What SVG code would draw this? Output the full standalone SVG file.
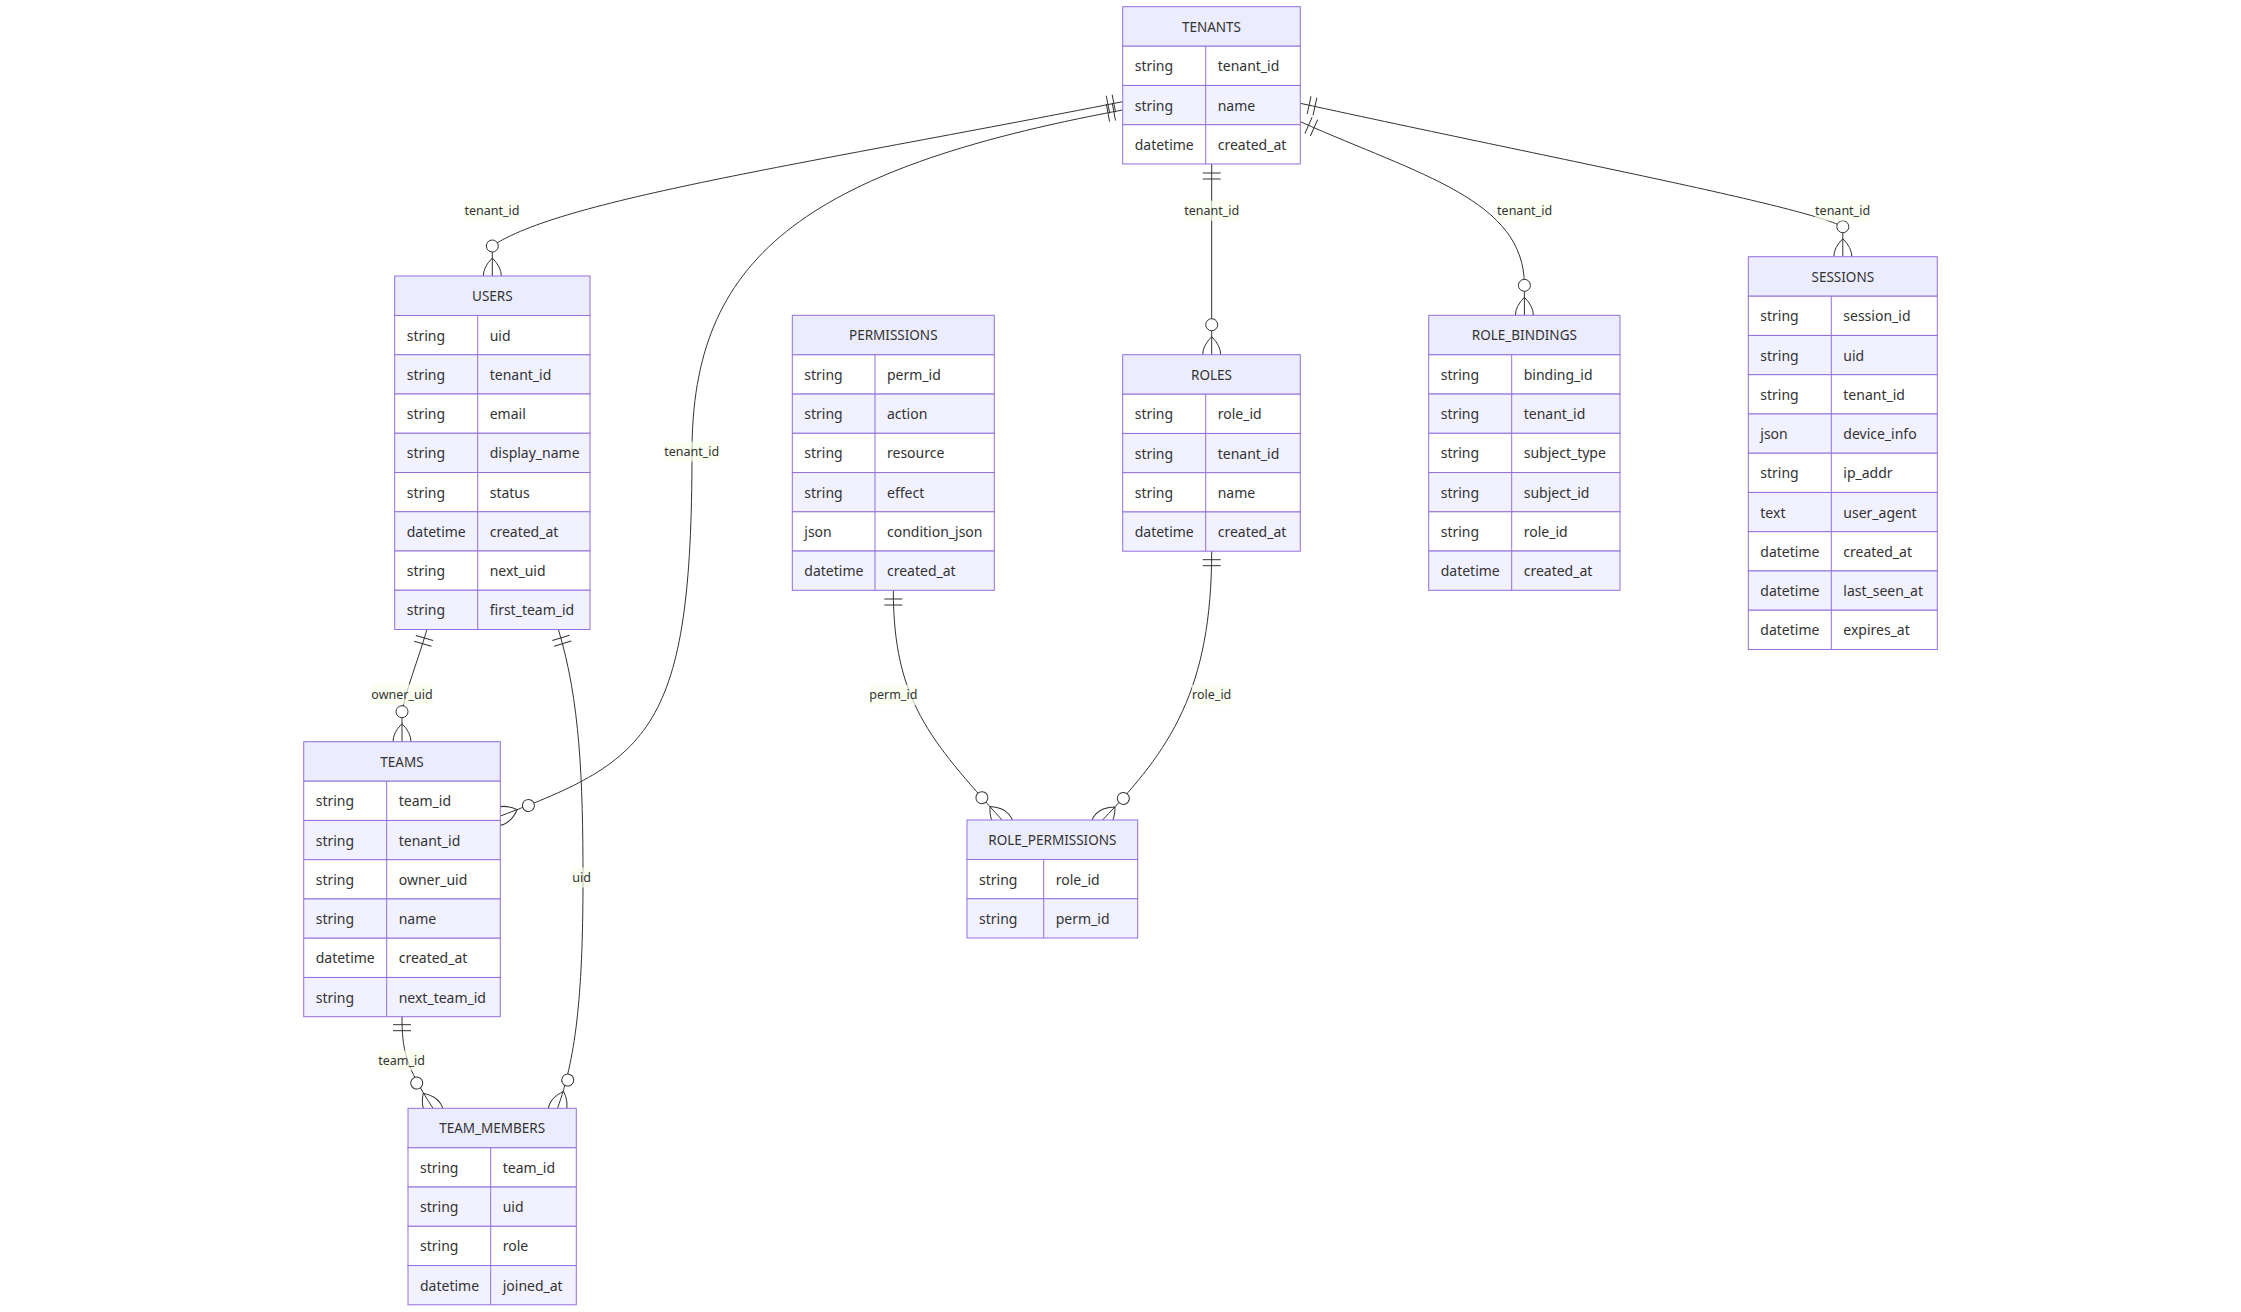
<svg xmlns="http://www.w3.org/2000/svg" width="2241" height="1312" viewBox="0 0 2241 1312">
<style>
.hd{fill:#ECECFF;stroke:#9370DB;stroke-width:1}
.ro{fill:#FFFFFF;stroke:#9370DB;stroke-width:1}
.re{fill:#F1F1FF;stroke:#9370DB;stroke-width:1}
.dv{stroke:#9370DB;stroke-width:1}
.h{font-family:'Noto Sans','DejaVu Sans',sans-serif;font-size:13.5px;fill:#333;text-anchor:middle}
.a{font-family:'Noto Sans','DejaVu Sans',sans-serif;font-size:14px;fill:#333}
.edge{fill:none;stroke:#333;stroke-width:1}
.lb{fill:#F9FFEC;opacity:0.7}
.lt{font-family:'Noto Sans','DejaVu Sans',sans-serif;font-size:12.5px;fill:#333;text-anchor:middle}
</style>
<defs>
<marker id="oneStart" markerWidth="18" markerHeight="18" refX="0" refY="9" orient="auto" markerUnits="userSpaceOnUse" overflow="visible">
<path d="M9,0 L9,18 M15,0 L15,18" fill="none" stroke="#333" stroke-width="1"/>
</marker>
<marker id="zmEnd" markerWidth="57" markerHeight="36" refX="39" refY="18" orient="auto" markerUnits="userSpaceOnUse" overflow="visible">
<circle cx="9" cy="18" r="6" fill="#FFFFFF" stroke="#333" stroke-width="1"/>
<path d="M21,18 Q39,0 57,18 Q39,36 21,18" fill="none" stroke="#333" stroke-width="1"/>
</marker>
</defs>
<rect width="2241" height="1312" fill="#FFFFFF"/>
<g id="connectors">
<path class="edge" marker-start="url(#oneStart)" marker-end="url(#zmEnd)" d="M1122.7,101.7 C800,165 560,200 492.3,246 L492.3,276"/>
<path class="edge" marker-start="url(#oneStart)" marker-end="url(#zmEnd)" d="M1122.7,110 C800,170 692,260 692,452 C692,730 650,760 500.3,816"/>
<path class="edge" marker-start="url(#oneStart)" marker-end="url(#zmEnd)" d="M1211.7,164 L1211.7,354.7"/>
<path class="edge" marker-start="url(#oneStart)" marker-end="url(#zmEnd)" d="M1300.3,121.7 C1420,175 1524.4,200 1524.4,285.3 L1524.4,315.3"/>
<path class="edge" marker-start="url(#oneStart)" marker-end="url(#zmEnd)" d="M1300.3,103.3 C1560,160 1800,205 1842.8,226.7 L1842.8,256.7"/>
<path class="edge" marker-start="url(#oneStart)" marker-end="url(#zmEnd)" d="M427,629.3 C418,660 406,690 402,711.7 L402,741.7"/>
<path class="edge" marker-start="url(#oneStart)" marker-end="url(#zmEnd)" d="M558.3,629.3 C580,700 583,780 583,880 C583,1000 575,1060 557.5,1108.3"/>
<path class="edge" marker-start="url(#oneStart)" marker-end="url(#zmEnd)" d="M402,1015.7 C402,1050 405,1065 433,1108.3"/>
<path class="edge" marker-start="url(#oneStart)" marker-end="url(#zmEnd)" d="M893.3,590 C893.3,700 930,740 1002,820"/>
<path class="edge" marker-start="url(#oneStart)" marker-end="url(#zmEnd)" d="M1211.7,550.7 C1211.7,690 1170,750 1102.5,820"/>
</g>
<g id="labels">
<rect class="lb" x="464.4" y="200.7" width="55.2" height="20"/><text class="lt" x="492" y="215">tenant_id</text>
<rect class="lb" x="664.1" y="441.6" width="55.2" height="20"/><text class="lt" x="691.7" y="456">tenant_id</text>
<rect class="lb" x="1184.1" y="200.7" width="55.2" height="20"/><text class="lt" x="1211.7" y="215">tenant_id</text>
<rect class="lb" x="1497" y="200.7" width="55.2" height="20"/><text class="lt" x="1524.6" y="215">tenant_id</text>
<rect class="lb" x="1815" y="200.7" width="55.2" height="20"/><text class="lt" x="1842.6" y="215">tenant_id</text>
<rect class="lb" x="371" y="684.4" width="62" height="20"/><text class="lt" x="402" y="698.7">owner_uid</text>
<rect class="lb" x="572.3" y="867.5" width="18.7" height="20"/><text class="lt" x="581.6" y="881.8">uid</text>
<rect class="lb" x="378.1" y="1050.4" width="47" height="20"/><text class="lt" x="401.6" y="1064.7">team_id</text>
<rect class="lb" x="869.2" y="685" width="48.3" height="20"/><text class="lt" x="893.3" y="699.3">perm_id</text>
<rect class="lb" x="1191.9" y="685" width="39.6" height="20"/><text class="lt" x="1211.7" y="699.3">role_id</text>
</g>
<g id="TENANTS" transform="translate(1122.7,6.7)">
<rect class="hd" width="177.6" height="39.5"/><text class="h" x="88.8" y="25">TENANTS</text>
<rect class="ro" y="39.5" width="177.6" height="39.25"/>
<rect class="re" y="78.75" width="177.6" height="39.25"/>
<rect class="ro" y="118" width="177.6" height="39.25"/>
<line class="dv" x1="83" y1="39.5" x2="83" y2="157.25"/>
<text class="a" x="12" y="64.6">string</text><text class="a" x="95" y="64.6">tenant_id</text>
<text class="a" x="12" y="103.9">string</text><text class="a" x="95" y="103.9">name</text>
<text class="a" x="12" y="143.1">datetime</text><text class="a" x="95" y="143.1">created_at</text>
</g>
<g id="USERS" transform="translate(394.7,276)">
<rect class="hd" width="195.3" height="39.5"/><text class="h" x="97.65" y="25">USERS</text>
<rect class="ro" y="39.5" width="195.3" height="39.25"/>
<rect class="re" y="78.75" width="195.3" height="39.25"/>
<rect class="ro" y="118" width="195.3" height="39.25"/>
<rect class="re" y="157.25" width="195.3" height="39.25"/>
<rect class="ro" y="196.5" width="195.3" height="39.25"/>
<rect class="re" y="235.75" width="195.3" height="39.25"/>
<rect class="ro" y="275" width="195.3" height="39.25"/>
<rect class="re" y="314.25" width="195.3" height="39.25"/>
<line class="dv" x1="83" y1="39.5" x2="83" y2="353.5"/>
<text class="a" x="12" y="64.6">string</text><text class="a" x="95" y="64.6">uid</text>
<text class="a" x="12" y="103.9">string</text><text class="a" x="95" y="103.9">tenant_id</text>
<text class="a" x="12" y="143.1">string</text><text class="a" x="95" y="143.1">email</text>
<text class="a" x="12" y="182.4">string</text><text class="a" x="95" y="182.4">display_name</text>
<text class="a" x="12" y="221.6">string</text><text class="a" x="95" y="221.6">status</text>
<text class="a" x="12" y="260.9">datetime</text><text class="a" x="95" y="260.9">created_at</text>
<text class="a" x="12" y="300.1">string</text><text class="a" x="95" y="300.1">next_uid</text>
<text class="a" x="12" y="339.4">string</text><text class="a" x="95" y="339.4">first_team_id</text>
</g>
<g id="TEAMS" transform="translate(303.7,741.7)">
<rect class="hd" width="196.6" height="39.5"/><text class="h" x="98.3" y="25">TEAMS</text>
<rect class="ro" y="39.5" width="196.6" height="39.25"/>
<rect class="re" y="78.75" width="196.6" height="39.25"/>
<rect class="ro" y="118" width="196.6" height="39.25"/>
<rect class="re" y="157.25" width="196.6" height="39.25"/>
<rect class="ro" y="196.5" width="196.6" height="39.25"/>
<rect class="re" y="235.75" width="196.6" height="39.25"/>
<line class="dv" x1="83" y1="39.5" x2="83" y2="275"/>
<text class="a" x="12" y="64.6">string</text><text class="a" x="95" y="64.6">team_id</text>
<text class="a" x="12" y="103.9">string</text><text class="a" x="95" y="103.9">tenant_id</text>
<text class="a" x="12" y="143.1">string</text><text class="a" x="95" y="143.1">owner_uid</text>
<text class="a" x="12" y="182.4">string</text><text class="a" x="95" y="182.4">name</text>
<text class="a" x="12" y="221.6">datetime</text><text class="a" x="95" y="221.6">created_at</text>
<text class="a" x="12" y="260.9">string</text><text class="a" x="95" y="260.9">next_team_id</text>
</g>
<g id="TEAM_MEMBERS" transform="translate(408,1108.3)">
<rect class="hd" width="168.3" height="39.5"/><text class="h" x="84.15" y="25">TEAM_MEMBERS</text>
<rect class="ro" y="39.5" width="168.3" height="39.25"/>
<rect class="re" y="78.75" width="168.3" height="39.25"/>
<rect class="ro" y="118" width="168.3" height="39.25"/>
<rect class="re" y="157.25" width="168.3" height="39.25"/>
<line class="dv" x1="82.7" y1="39.5" x2="82.7" y2="196.5"/>
<text class="a" x="12" y="64.6">string</text><text class="a" x="94.7" y="64.6">team_id</text>
<text class="a" x="12" y="103.9">string</text><text class="a" x="94.7" y="103.9">uid</text>
<text class="a" x="12" y="143.1">string</text><text class="a" x="94.7" y="143.1">role</text>
<text class="a" x="12" y="182.4">datetime</text><text class="a" x="94.7" y="182.4">joined_at</text>
</g>
<g id="PERMISSIONS" transform="translate(792.3,315.3)">
<rect class="hd" width="202" height="39.5"/><text class="h" x="101" y="25">PERMISSIONS</text>
<rect class="ro" y="39.5" width="202" height="39.25"/>
<rect class="re" y="78.75" width="202" height="39.25"/>
<rect class="ro" y="118" width="202" height="39.25"/>
<rect class="re" y="157.25" width="202" height="39.25"/>
<rect class="ro" y="196.5" width="202" height="39.25"/>
<rect class="re" y="235.75" width="202" height="39.25"/>
<line class="dv" x1="82.7" y1="39.5" x2="82.7" y2="275"/>
<text class="a" x="12" y="64.6">string</text><text class="a" x="94.7" y="64.6">perm_id</text>
<text class="a" x="12" y="103.9">string</text><text class="a" x="94.7" y="103.9">action</text>
<text class="a" x="12" y="143.1">string</text><text class="a" x="94.7" y="143.1">resource</text>
<text class="a" x="12" y="182.4">string</text><text class="a" x="94.7" y="182.4">effect</text>
<text class="a" x="12" y="221.6">json</text><text class="a" x="94.7" y="221.6">condition_json</text>
<text class="a" x="12" y="260.9">datetime</text><text class="a" x="94.7" y="260.9">created_at</text>
</g>
<g id="ROLES" transform="translate(1122.7,354.7)">
<rect class="hd" width="177.6" height="39.5"/><text class="h" x="88.8" y="25">ROLES</text>
<rect class="ro" y="39.5" width="177.6" height="39.25"/>
<rect class="re" y="78.75" width="177.6" height="39.25"/>
<rect class="ro" y="118" width="177.6" height="39.25"/>
<rect class="re" y="157.25" width="177.6" height="39.25"/>
<line class="dv" x1="83" y1="39.5" x2="83" y2="196.5"/>
<text class="a" x="12" y="64.6">string</text><text class="a" x="95" y="64.6">role_id</text>
<text class="a" x="12" y="103.9">string</text><text class="a" x="95" y="103.9">tenant_id</text>
<text class="a" x="12" y="143.1">string</text><text class="a" x="95" y="143.1">name</text>
<text class="a" x="12" y="182.4">datetime</text><text class="a" x="95" y="182.4">created_at</text>
</g>
<g id="ROLE_PERMISSIONS" transform="translate(967,820)">
<rect class="hd" width="170.7" height="39.5"/><text class="h" x="85.35" y="25">ROLE_PERMISSIONS</text>
<rect class="ro" y="39.5" width="170.7" height="39.25"/>
<rect class="re" y="78.75" width="170.7" height="39.25"/>
<line class="dv" x1="76.7" y1="39.5" x2="76.7" y2="118"/>
<text class="a" x="12" y="64.6">string</text><text class="a" x="88.7" y="64.6">role_id</text>
<text class="a" x="12" y="103.9">string</text><text class="a" x="88.7" y="103.9">perm_id</text>
</g>
<g id="ROLE_BINDINGS" transform="translate(1428.7,315.3)">
<rect class="hd" width="191.3" height="39.5"/><text class="h" x="95.65" y="25">ROLE_BINDINGS</text>
<rect class="ro" y="39.5" width="191.3" height="39.25"/>
<rect class="re" y="78.75" width="191.3" height="39.25"/>
<rect class="ro" y="118" width="191.3" height="39.25"/>
<rect class="re" y="157.25" width="191.3" height="39.25"/>
<rect class="ro" y="196.5" width="191.3" height="39.25"/>
<rect class="re" y="235.75" width="191.3" height="39.25"/>
<line class="dv" x1="83" y1="39.5" x2="83" y2="275"/>
<text class="a" x="12" y="64.6">string</text><text class="a" x="95" y="64.6">binding_id</text>
<text class="a" x="12" y="103.9">string</text><text class="a" x="95" y="103.9">tenant_id</text>
<text class="a" x="12" y="143.1">string</text><text class="a" x="95" y="143.1">subject_type</text>
<text class="a" x="12" y="182.4">string</text><text class="a" x="95" y="182.4">subject_id</text>
<text class="a" x="12" y="221.6">string</text><text class="a" x="95" y="221.6">role_id</text>
<text class="a" x="12" y="260.9">datetime</text><text class="a" x="95" y="260.9">created_at</text>
</g>
<g id="SESSIONS" transform="translate(1748.3,256.7)">
<rect class="hd" width="189" height="39.5"/><text class="h" x="94.5" y="25">SESSIONS</text>
<rect class="ro" y="39.5" width="189" height="39.25"/>
<rect class="re" y="78.75" width="189" height="39.25"/>
<rect class="ro" y="118" width="189" height="39.25"/>
<rect class="re" y="157.25" width="189" height="39.25"/>
<rect class="ro" y="196.5" width="189" height="39.25"/>
<rect class="re" y="235.75" width="189" height="39.25"/>
<rect class="ro" y="275" width="189" height="39.25"/>
<rect class="re" y="314.25" width="189" height="39.25"/>
<rect class="ro" y="353.5" width="189" height="39.25"/>
<line class="dv" x1="83" y1="39.5" x2="83" y2="392.75"/>
<text class="a" x="12" y="64.6">string</text><text class="a" x="95" y="64.6">session_id</text>
<text class="a" x="12" y="103.9">string</text><text class="a" x="95" y="103.9">uid</text>
<text class="a" x="12" y="143.1">string</text><text class="a" x="95" y="143.1">tenant_id</text>
<text class="a" x="12" y="182.4">json</text><text class="a" x="95" y="182.4">device_info</text>
<text class="a" x="12" y="221.6">string</text><text class="a" x="95" y="221.6">ip_addr</text>
<text class="a" x="12" y="260.9">text</text><text class="a" x="95" y="260.9">user_agent</text>
<text class="a" x="12" y="300.1">datetime</text><text class="a" x="95" y="300.1">created_at</text>
<text class="a" x="12" y="339.4">datetime</text><text class="a" x="95" y="339.4">last_seen_at</text>
<text class="a" x="12" y="378.6">datetime</text><text class="a" x="95" y="378.6">expires_at</text>
</g>
</svg>
